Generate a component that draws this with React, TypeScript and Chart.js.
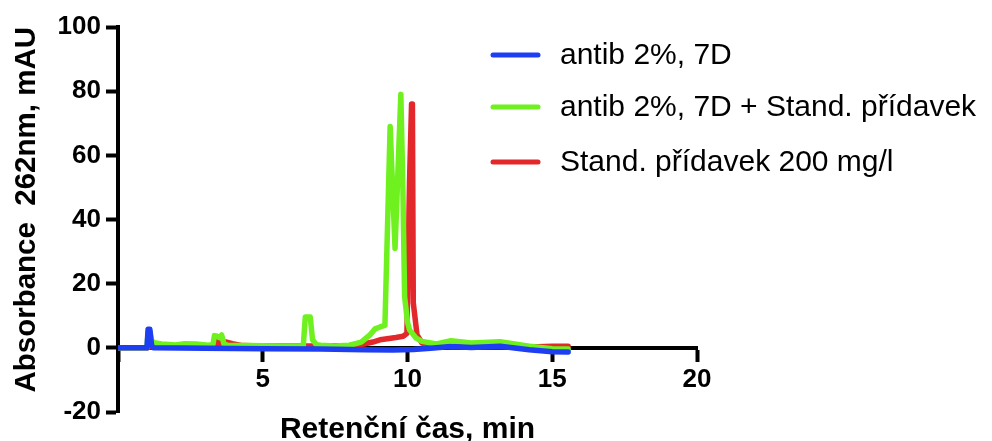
import { useEffect, useRef } from 'react';
import { Chart, registerables } from 'chart.js';

Chart.register(...registerables);

// ---- data (retention time in min, absorbance in mAU) ----
const seriesLabels = [
  'antib 2%, 7D',
  'antib 2%, 7D + Stand. přídavek',
  'Stand. přídavek 200 mg/l',
];
const seriesColors = ['#1e3ef4', '#6ff01f', '#e2282b'];

const blueTime = [0, 1.0, 1.04, 1.1, 1.16, 1.22, 3, 5, 7, 8.5, 9.5, 10.2, 10.8, 11.5, 12.2, 13.2, 14.2, 15.0, 15.55];
const blueAbs = [0, 0, 5.8, 5.8, 0.8, 0, -0.1, -0.3, -0.4, -0.6, -0.7, -0.5, -0.1, 0.4, 0.1, 0.5, -0.6, -1.2, -1.3];

const greenTime = [
  0, 1.0, 1.04, 1.1, 1.16, 1.25, 1.5, 2.0, 2.3, 2.7, 3.1, 3.28, 3.33, 3.42, 3.5, 3.58, 3.66, 3.8,
  4.5, 5.5, 6.4, 6.47, 6.64, 6.72, 6.85, 7.0, 7.5, 8.0, 8.4, 8.7, 8.88, 9.05, 9.22, 9.4, 9.57,
  9.77, 9.84, 9.9, 10.0, 10.07, 10.3, 10.5, 11.0, 11.5, 12.2, 13.2, 14.2, 15.0, 15.55,
];
const greenAbs = [
  0, 0, 5, 5, 2.2, 1.6, 1.2, 0.9, 1.3, 1.2, 0.8, 1.0, 3.8, 3.6, 3.2, 4.0, 1.2, 0.8,
  0.7, 0.6, 0.6, 9.6, 9.6, 2.5, 1.0, 0.8, 0.6, 0.8, 1.8, 4.0, 5.9, 6.5, 7.0, 69, 31,
  79, 50, 16, 8, 5.6, 3, 2, 1.2, 2.2, 1.5, 1.9, 0.5, -0.3, -0.4,
];

const redTime = [
  0, 1.0, 1.1, 3.0, 3.4, 3.45, 3.5, 3.6, 3.75, 3.95, 4.3, 5, 6, 7, 8, 8.5, 8.8, 9.05, 9.3, 9.6,
  9.85, 9.98, 10.07, 10.14, 10.17, 10.2, 10.33, 10.5, 10.8, 11.5, 12.5, 13.5, 14.5, 15.0, 15.55,
];
const redAbs = [
  0, 0, 0.3, 0.3, 0.4, 3.5, 0.8, 1.5, 1.8, 1.3, 0.7, 0.6, 0.6, 0.6, 0.7, 1.2, 1.8, 2.5, 2.8, 3.2,
  3.6, 4.5, 52, 76, 76, 14, 4, 1.5, 0.8, 0.3, 0.3, 0.4, 0.3, 0.5, 0.5,
];

const xTickValues = [0, 5, 10, 15, 20];
const yTickValues = [-20, 0, 20, 40, 60, 80, 100];

const xTitle = 'Retenční čas, min';
const yTitle = 'Absorbance  262nm, mAU';

const FONT = '"Liberation Sans", Arial, Helvetica, sans-serif';

const toPoints = (t: number[], v: number[]) => t.map((x, i) => ({ x, y: v[i] }));

const legendPlugin = {
  id: 'sideLegend',
  afterDraw(chart: any) {
    const { ctx } = chart;
    const lineX = 493;
    const lineLen = 45;
    const textX = 560;
    const rows = [55, 107, 162];
    ctx.save();
    chart.data.datasets.forEach((ds: any, i: number) => {
      const y = rows[i];
      ctx.strokeStyle = ds.borderColor;
      ctx.lineWidth = 5;
      ctx.lineCap = 'round';
      ctx.beginPath();
      ctx.moveTo(lineX, y);
      ctx.lineTo(lineX + lineLen, y);
      ctx.stroke();
      ctx.fillStyle = '#000';
      ctx.font = `30px ${FONT}`;
      ctx.textBaseline = 'middle';
      ctx.textAlign = 'left';
      ctx.fillText(ds.label, textX, y + 1);
    });
    ctx.restore();
  },
};

export default function App() {
  const ref = useRef<HTMLCanvasElement | null>(null);

  useEffect(() => {
    if (!ref.current) return;
    Chart.defaults.font.family = FONT;
    const series = [
      toPoints(blueTime, blueAbs),
      toPoints(greenTime, greenAbs),
      toPoints(redTime, redAbs),
    ];
    const chart = new Chart(ref.current, {
      type: 'line',
      data: {
        datasets: series.map((data, i) => ({
          label: seriesLabels[i],
          data,
          borderColor: seriesColors[i],
          backgroundColor: seriesColors[i],
          borderWidth: 5.5,
          pointRadius: 0,
          tension: 0,
          fill: false,
          borderJoinStyle: 'round' as const,
          borderCapStyle: 'round' as const,
        })),
      },
      options: {
        animation: false,
        responsive: true,
        maintainAspectRatio: false,
        layout: { padding: { top: 27, bottom: 29, left: 0, right: 295 } },
        plugins: { legend: { display: false }, tooltip: { enabled: false } },
        scales: {
          x: {
            type: 'linear',
            position: { y: 0 } as any,
            min: 0,
            max: 20,
            afterBuildTicks: (s: any) => {
              s.ticks = xTickValues.map((value) => ({ value }));
            },
            ticks: {
              color: '#000',
              padding: 4,
              maxRotation: 0,
              font: { size: 26, weight: 'bold', family: FONT },
              callback: (v: any) => (v === 0 ? '' : String(v)),
            },
            grid: {
              display: true,
              drawOnChartArea: false,
              drawTicks: true,
              tickLength: 12,
              tickWidth: 4,
              tickColor: '#000',
            },
            border: { display: true, color: '#000', width: 4 },
            title: {
              display: true,
              text: xTitle,
              color: '#000',
              font: { size: 30, weight: 'bold', family: FONT },
              padding: { top: 13, bottom: 0 },
            },
          },
          y: {
            type: 'linear',
            position: 'left',
            min: -20,
            max: 100,
            afterBuildTicks: (s: any) => {
              s.ticks = yTickValues.map((value) => ({ value }));
            },
            afterFit: (s: any) => {
              s.width = 118;
            },
            ticks: {
              color: '#000',
              padding: 5,
              font: { size: 26, weight: 'bold', family: FONT },
            },
            grid: {
              display: true,
              drawOnChartArea: false,
              drawTicks: true,
              tickLength: 12,
              tickWidth: 4,
              tickColor: '#000',
            },
            border: { display: true, color: '#000', width: 4 },
            title: {
              display: true,
              text: yTitle,
              align: 'end',
              color: '#000',
              font: { size: 29.5, weight: 'bold', family: FONT },
              padding: { top: 9, bottom: 0 },
            },
          },
        },
      },
      plugins: [legendPlugin],
    });
    return () => chart.destroy();
  }, []);

  return (
    <div style={{ position: 'absolute', left: 0, top: 0, width: 992, height: 441, background: '#fff' }}>
      <canvas ref={ref} />
    </div>
  );
}
